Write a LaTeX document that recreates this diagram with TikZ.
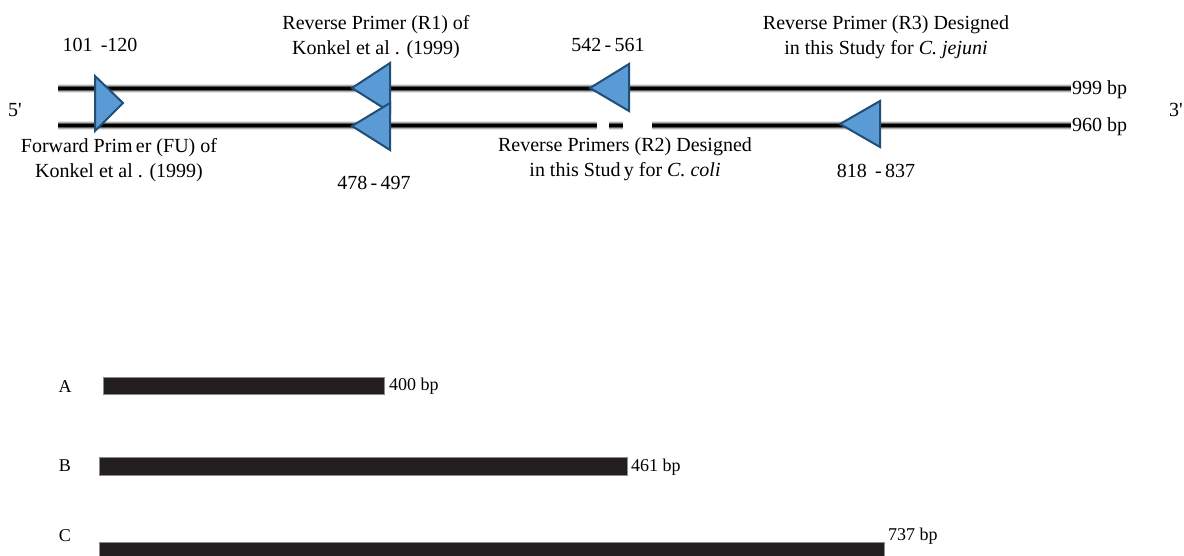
\documentclass[tikz,border=0pt]{standalone}
\usepackage{fontspec}
\setmainfont{Liberation Serif}
\definecolor{tri}{RGB}{91,155,213}
\definecolor{triedge}{RGB}{31,78,121}
\definecolor{barc}{RGB}{35,31,32}
\begin{document}
\begin{tikzpicture}[x=1pt,y=-1pt,
  lbl/.style={font=\fontsize{20}{25}\selectfont, inner sep=0pt, align=center},
  bplbl/.style={font=\fontsize{20}{24}\selectfont, inner sep=0pt, anchor=west},
  small/.style={font=\fontsize{18}{21}\selectfont, inner sep=0pt},
  glowA/.style={line width=9pt, black!10},
  glowB/.style={line width=7pt, black!30},
  glowC/.style={line width=5pt, black!65},
  core/.style={line width=3pt, black},
  primer/.style={fill=tri, draw=triedge, line width=2pt, line join=miter},
  band/.style={fill=barc, draw=black!45, line width=0.6pt}]
\useasboundingbox (0,0) rectangle (1184,555);

% strand end points
\coordinate (t1) at (58,88);
\coordinate (t2) at (1071,88);
\coordinate (b1) at (58,125);
\coordinate (b2) at (597,125);
\coordinate (b3) at (609,125);
\coordinate (b4) at (623,125);
\coordinate (b5) at (652,125);
\coordinate (b6) at (1071,125);

\foreach \s in {glowA,glowB,glowC,core}{
  \draw[\s] (t1) -- (t2);
  \draw[\s] (b1) -- (b2);
  \draw[\s] (b3) -- (b4);
  \draw[\s] (b5) -- (b6);
}

% primers
\draw[primer] (95,76) -- (95,131) -- (123,103) -- cycle;
\draw[primer] (390,63) -- (390,112) -- (352,88) -- cycle;
\draw[primer] (390,103) -- (390,150) -- (352,126) -- cycle;
\draw[primer] (629,64) -- (629,111) -- (590,88) -- cycle;
\draw[primer] (880,101) -- (880,147) -- (840,124) -- cycle;

% labels
\node[lbl] (r1lab) at (376,37.5) {Reverse Primer (R1) of\\Konkel et al~. (1999)};
\node[lbl] (r3lab) at (886,37.5) {Reverse Primer (R3) Designed\\in this Study for \textit{C. jejuni}};
\node[lbl] (n1) at (100,45) {101~\,-120};
\node[lbl] (n2) at (608,45) {542\,-\,561};
\node[lbl] (fulab) at (119,160) {Forward Prim\,er (FU) of\\Konkel et al~. (1999)};
\node[lbl] (r2lab) at (625,159) {Reverse Primers (R2) Designed\\in this Stud\,y for \textit{C. coli}};
\node[lbl] (n3) at (374,183) {478\,-\,497};
\node[lbl] (n4) at (876,171) {818~\,-\,837};
\node[bplbl] (l999) at (1072,90) {999 bp};
\node[bplbl] (l960) at (1072,127) {960 bp};
\node[lbl] (p5) at (15,110) {5\textquotesingle};
\node[lbl] (p3) at (1176,110) {3\textquotesingle};

% PCR products
\draw[band] (103,377) rectangle (384,394);
\draw[band] (99,457) rectangle (627,475);
\draw[band] (99,542) rectangle (884,558);
\node[small] (la) at (65,387) {A};
\node[small] (lb) at (65,466) {B};
\node[small] (lc) at (65,536) {C};
\node[small, anchor=west] (pa) at (389,386) {400 bp};
\node[small, anchor=west] (pb) at (631,467) {461 bp};
\node[small, anchor=west] (pc) at (888,536) {737 bp};
\end{tikzpicture}
\end{document}
